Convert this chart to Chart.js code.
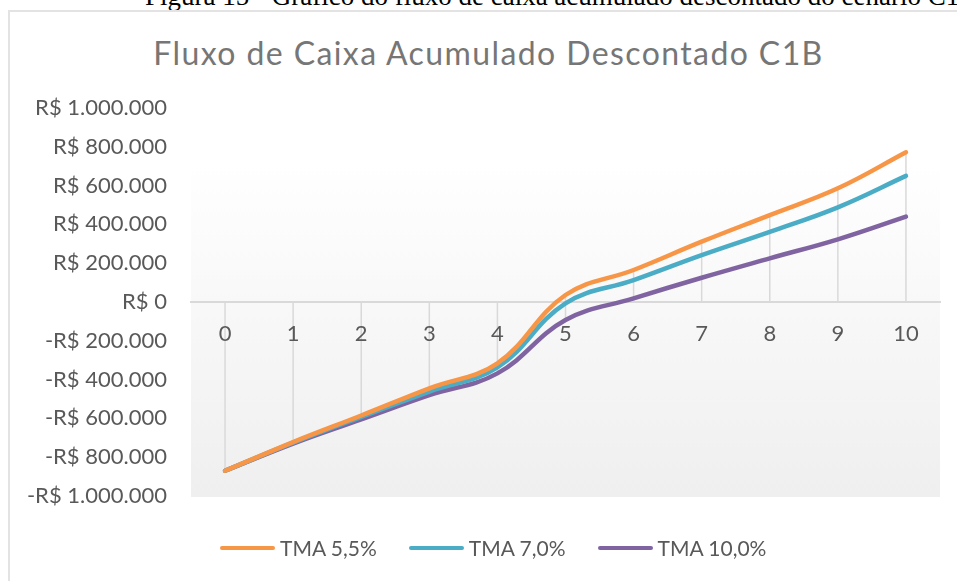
<!DOCTYPE html>
<html lang="pt-BR">
<head>
<meta charset="utf-8">
<title>Fluxo de Caixa Acumulado Descontado C1B</title>
<script src="https://cdn.jsdelivr.net/npm/chart.js@4"></script>
<style>
    html, body { margin: 0; padding: 0; background: #fff; overflow: hidden; }
    #page { position: relative; width: 957px; height: 581px; overflow: hidden; }
    #caption { position: absolute; left: 145px; top: -17px; white-space: nowrap;
        font-family: "Liberation Serif", "DejaVu Serif", serif; font-size: 27px; line-height: 27px; color: #000; }
    #frame { position: absolute; left: 8px; top: 10px; width: 1000px; height: 700px; border: 2px solid #e3e3e3; }
    #title { position: absolute; left: 0; width: 977px; top: 35px; text-align: center; letter-spacing: 1.4px;
        font-family: Lato, "Open Sans", sans-serif; font-size: 32px; line-height: 36px; color: #767676; }
    #chart { position: absolute; left: 0; top: 0; }
    #legend { position: absolute; top: 535px; left: 220px; display: flex; gap: 32px;
        font-family: Lato, "Open Sans", sans-serif; font-size: 21px; line-height: 26px; color: #595959; }
    .legend-item { display: flex; align-items: center; }
    .legend-swatch { width: 55px; height: 4px; border-radius: 2px; margin-right: 5px; }
</style>
</head>
<body>
<div id="page">
    <div id="caption">Figura 15 - Gráfico do fluxo de caixa acumulado descontado do cenário C1B</div>
    <div id="frame"></div>
    <div id="title">Fluxo de Caixa Acumulado Descontado C1B</div>
    <canvas id="chart" width="957" height="581"></canvas>
    <div id="legend"></div>
</div>
<script>
// data
const categories = ['0', '1', '2', '3', '4', '5', '6', '7', '8', '9', '10'];
const tma55  = [-870000, -722000, -585000, -445000, -316000,  36000, 165000, 311000, 448000, 586000, 772000];
const tma70  = [-870000, -725000, -592000, -462000, -337000,  -7000, 113000, 242000, 362000, 488000, 650000];
const tma100 = [-870000, -730000, -605000, -480000, -368000, -93000,  19000, 125000, 225000, 323000, 440000];
const seriesNames = ['TMA 5,5%', 'TMA 7,0%', 'TMA 10,0%'];
const seriesColors = ['#F79646', '#4BACC6', '#8064A2'];
const yMin = -1000000;
const yMax = 1000000;
const yStep = 200000;

const ChartUI = {
    chart: null,

    init() {
        this.renderLegend();
        this.renderChart();
    },

    formatBRL(v) {
        const abs = Math.abs(v).toFixed(0).replace(/\B(?=(\d{3})+(?!\d))/g, '.');
        return (v < 0 ? '-' : '') + 'R$ ' + abs;
    },

    renderLegend() {
        const box = document.getElementById('legend');
        box.innerHTML = seriesNames.map((name, i) => `
            <div class="legend-item">
                <span class="legend-swatch" style="background:${seriesColors[i]}"></span>
                <span>${name}</span>
            </div>
        `).join('');
    },

    // plot background + drop lines, both under the axes and the series
    plotDecor: {
        id: 'plotDecor',
        beforeDraw(chart) {
            const { ctx, chartArea, scales } = chart;
            const top = scales.y.getPixelForValue(730000);
            const g = ctx.createLinearGradient(0, top, 0, chartArea.bottom);
            g.addColorStop(0, '#ffffff');
            g.addColorStop(1, '#efefef');
            ctx.save();
            ctx.fillStyle = g;
            ctx.fillRect(chartArea.left, top, chartArea.right - chartArea.left, chartArea.bottom - top + 1);

            ctx.strokeStyle = '#d9d9d9';
            ctx.lineWidth = 1.5;
            const sets = chart.data.datasets;
            categories.forEach((c, i) => {
                const vals = sets.map(d => d.data[i]);
                const hi = Math.max(0, ...vals);
                const lo = Math.min(0, ...vals);
                const x = scales.x.getPixelForValue(i);
                ctx.beginPath();
                ctx.moveTo(x, scales.y.getPixelForValue(hi));
                ctx.lineTo(x, scales.y.getPixelForValue(lo));
                ctx.stroke();
            });
            ctx.restore();
        }
    },

    renderChart() {
        const ctx = document.getElementById('chart');
        const font = { family: 'Lato, "Open Sans", sans-serif', size: 22 };
        const values = [tma55, tma70, tma100];

        this.chart = new Chart(ctx, {
            type: 'line',
            data: {
                labels: categories,
                datasets: seriesNames.map((name, i) => ({
                    label: name,
                    data: values[i],
                    borderColor: seriesColors[i],
                    backgroundColor: seriesColors[i],
                    borderWidth: 4.5,
                    borderCapStyle: 'round',
                    borderJoinStyle: 'round',
                    pointRadius: 0,
                    tension: 0.4,
                    fill: false
                }))
            },
            options: {
                responsive: false,
                animation: false,
                layout: { padding: { top: 108, right: 17, bottom: 85, left: 0 } },
                plugins: {
                    legend: { display: false },
                    title: { display: false },
                    tooltip: { enabled: false }
                },
                scales: {
                    x: {
                        position: { y: 0 },
                        offset: true,
                        grid: { display: false, drawTicks: false },
                        border: { display: true, color: '#d9d9d9', width: 2 },
                        ticks: { color: '#595959', font, padding: 19, maxRotation: 0, autoSkip: false }
                    },
                    y: {
                        min: yMin,
                        max: yMax,
                        grid: { display: false, drawTicks: false },
                        border: { display: false },
                        afterFit: (scale) => { scale.width = 191; },
                        ticks: {
                            stepSize: yStep,
                            color: '#595959',
                            font,
                            padding: 24,
                            callback: (v) => this.formatBRL(v)
                        }
                    }
                }
            },
            plugins: [this.plotDecor]
        });
    }
};

document.addEventListener('DOMContentLoaded', () => ChartUI.init());
</script>
</body>
</html>
